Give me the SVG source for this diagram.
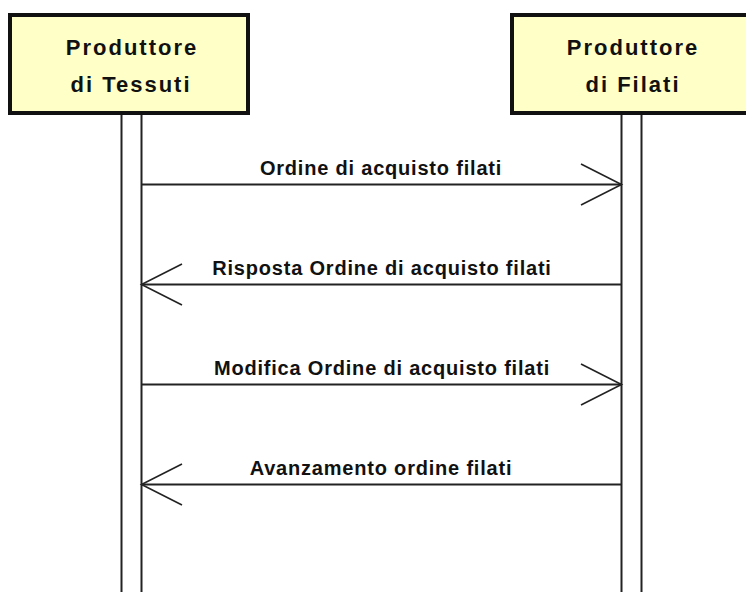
<svg xmlns="http://www.w3.org/2000/svg" width="746" height="592" viewBox="0 0 746 592">
<style>
.box{fill:#ffffc8;stroke:#111;stroke-width:4}
.ll{stroke:#222;stroke-width:2;fill:none}
.msg{stroke:#222;stroke-width:2;fill:none}
.head{stroke:#222;stroke-width:1.6;fill:none}
.nt{font-family:"Liberation Sans",Arial,sans-serif;font-weight:bold;font-size:22px;letter-spacing:2px;fill:#111;text-anchor:middle}
.lb{font-family:"Liberation Sans",Arial,sans-serif;font-weight:bold;font-size:20px;letter-spacing:0.8px;fill:#111;text-anchor:middle}
</style>
<rect width="746" height="592" fill="#fff"/>
<g id="node-tessuti">
<rect class="box" x="10" y="15" width="238" height="98"/>
<text class="nt" x="132" y="55">Produttore</text>
<text class="nt" x="131" y="92">di Tessuti</text>
<line class="ll" x1="121.5" y1="115" x2="121.5" y2="592"/>
<line class="ll" x1="141.5" y1="115" x2="141.5" y2="592"/>
</g>
<g id="node-filati">
<rect class="box" x="512" y="15" width="260" height="98"/>
<text class="nt" x="633" y="55">Produttore</text>
<text class="nt" x="633" y="92">di Filati</text>
<line class="ll" x1="621.5" y1="115" x2="621.5" y2="592"/>
<line class="ll" x1="641.5" y1="115" x2="641.5" y2="592"/>
</g>
<g id="connectors">
<line class="msg" x1="141.5" y1="184.5" x2="621.5" y2="184.5"/>
<polyline class="head" points="581,164 621.5,184.5 581,205"/>
<text class="lb" x="381" y="175">Ordine di acquisto filati</text>
<line class="msg" x1="141.5" y1="284.5" x2="621.5" y2="284.5"/>
<polyline class="head" points="182,264 141.5,284.5 182,305"/>
<text class="lb" x="382" y="275">Risposta Ordine di acquisto filati</text>
<line class="msg" x1="141.5" y1="384.5" x2="621.5" y2="384.5"/>
<polyline class="head" points="581,364 621.5,384.5 581,405"/>
<text class="lb" x="382" y="375">Modifica Ordine di acquisto filati</text>
<line class="msg" x1="141.5" y1="484.5" x2="621.5" y2="484.5"/>
<polyline class="head" points="182,464 141.5,484.5 182,505"/>
<text class="lb" x="381" y="475">Avanzamento ordine filati</text>
</g>
</svg>
